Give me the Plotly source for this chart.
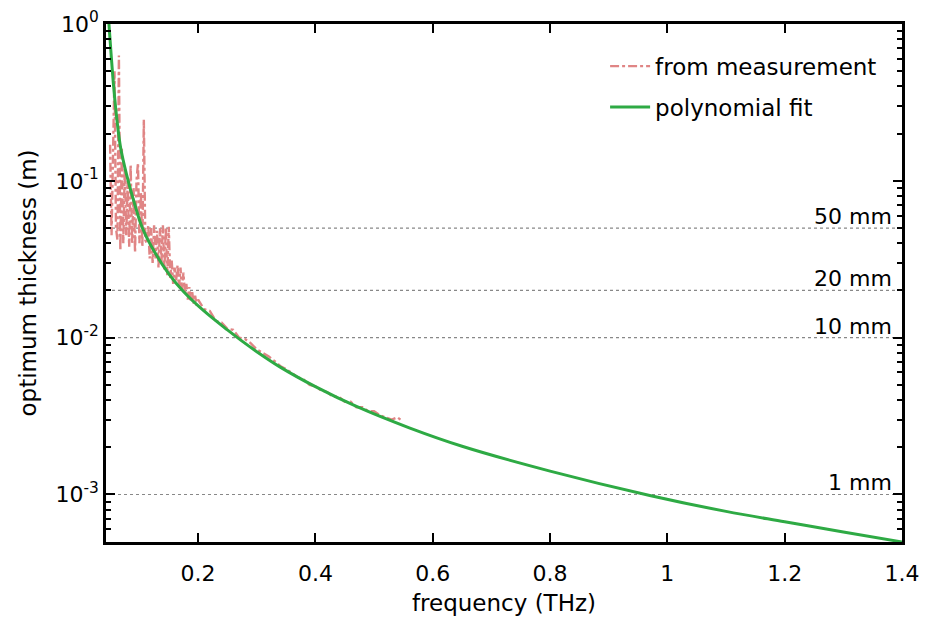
import plotly.graph_objects as go
import numpy as np

# polynomial fit
fit_f = [0.048, 0.052, 0.056, 0.062, 0.068, 0.078, 0.09, 0.105, 0.12, 0.15, 0.175,
         0.21, 0.25, 0.275, 0.30, 0.34, 0.40, 0.47, 0.56, 0.65, 0.80, 0.97, 1.10,
         1.20, 1.30, 1.40]
fit_t = [1.0, 0.62, 0.40, 0.238, 0.162, 0.11, 0.075, 0.050, 0.0384, 0.0255, 0.0197,
         0.0148, 0.0112, 0.0095, 0.00814, 0.00649, 0.00487, 0.00364, 0.00266, 0.00203,
         0.00141, 0.000986, 0.00078, 0.00067, 0.000577, 0.000498]

meas_f = [0.0500, 0.0525, 0.0550, 0.0575, 0.0600, 0.0625, 0.0650, 0.0675, 0.0700, 0.0725,
          0.0750, 0.0775, 0.0800, 0.0825, 0.0850, 0.0875, 0.0900, 0.0925, 0.0950, 0.0975,
          0.1000, 0.1025, 0.1050, 0.1075, 0.1100, 0.1125, 0.1150, 0.1175, 0.1200, 0.1225,
          0.1250, 0.1275, 0.1300, 0.1325, 0.1350, 0.1375, 0.1400, 0.1425, 0.1450, 0.1475,
          0.1500, 0.1525, 0.1550, 0.1575, 0.1600, 0.1625, 0.1650, 0.1675, 0.1700, 0.1725,
          0.1750, 0.1775, 0.1800, 0.1825, 0.1850, 0.1875, 0.1900, 0.1925, 0.1950, 0.1975,
          0.20, 0.21, 0.22, 0.23, 0.24, 0.25, 0.26, 0.27, 0.28, 0.29,
          0.30, 0.31, 0.32, 0.33, 0.34, 0.35, 0.36, 0.37, 0.38, 0.39,
          0.40, 0.41, 0.42, 0.43, 0.44, 0.45, 0.46, 0.47, 0.48, 0.49,
          0.50, 0.51, 0.52, 0.53, 0.54, 0.545]
meas_t = [0.17, 0.045, 0.15, 0.50, 0.05, 0.042, 0.63, 0.036, 0.16, 0.04,
          0.12, 0.045, 0.10, 0.038, 0.127, 0.04, 0.09, 0.035, 0.10, 0.13,
          0.04, 0.085, 0.038, 0.245, 0.042, 0.04, 0.052, 0.032, 0.05, 0.030,
          0.052, 0.032, 0.048, 0.028, 0.05, 0.03, 0.052, 0.027, 0.05, 0.025,
          0.051, 0.024, 0.031, 0.022, 0.028, 0.023, 0.029, 0.021, 0.028, 0.020,
          0.026, 0.019, 0.022, 0.0175, 0.021, 0.017, 0.0195, 0.0165, 0.0185, 0.016,
          0.0175, 0.0152, 0.0148, 0.0128, 0.0125, 0.0114, 0.0112, 0.0100, 0.0098, 0.0092,
          0.0084, 0.0080, 0.0076, 0.0071, 0.0066, 0.0063, 0.0059, 0.0056, 0.0054, 0.0050,
          0.0049, 0.0046, 0.0045, 0.0042, 0.0042, 0.0039, 0.0039, 0.0036, 0.0036, 0.0034,
          0.0034, 0.0032, 0.0031, 0.0030, 0.0031, 0.0030]

# reference thickness lines
ref_t = [0.05, 0.02, 0.01, 0.001]
ref_labels = ["50 mm", "20 mm", "10 mm", "1 mm"]

x_ticks = [0.2, 0.4, 0.6, 0.8, 1.0, 1.2, 1.4]
x_ticktext = ["0.2", "0.4", "0.6", "0.8", "1", "1.2", "1.4"]
y_ticks = [1, 0.1, 0.01, 0.001]
y_ticktext = ["10<sup>0</sup>", "10<sup>-1</sup>", "10<sup>-2</sup>", "10<sup>-3</sup>"]
y_minor = [k * 10.0 ** e for e in (-4, -3, -2, -1) for k in range(2, 10)]

FONT = "DejaVu Sans"

fig = go.Figure()
fig.add_trace(go.Scatter(x=meas_f, y=meas_t, mode="lines", name="from measurement",
                         legendgroup="a",
                         line=dict(color="#e08585", width=2.4, dash="dashdot")))
fig.add_trace(go.Scatter(x=fit_f, y=fit_t, mode="lines", name="polynomial fit",
                         legendgroup="b",
                         line=dict(color="#2eaa44", width=3, shape="spline", smoothing=1)))

for t, lab in zip(ref_t, ref_labels):
    fig.add_shape(type="line", xref="paper", x0=0, x1=1, yref="y", y0=t, y1=t,
                  line=dict(color="#888888", width=1.2, dash="dot"), layer="below")
    fig.add_annotation(xref="paper", x=0.99, yref="y", y=np.log10(t), text=lab,
                       showarrow=False, xanchor="right", yanchor="bottom",
                       font=dict(family=FONT, size=22, color="black"), yshift=-3)

fig.update_layout(
    width=925, height=624,
    margin=dict(l=106, r=23, t=24, b=82, autoexpand=False),
    paper_bgcolor="white", plot_bgcolor="white",
    font=dict(family=FONT, size=22, color="black"),
    showlegend=True,
    legend=dict(x=0.627, y=0.960, xanchor="left", yanchor="top",
                bgcolor="rgba(0,0,0,0)", font=dict(family=FONT, size=23),
                itemwidth=40, tracegroupgap=8),
    xaxis=dict(range=[0.043, 1.4], tickvals=x_ticks, ticktext=x_ticktext,
               automargin=False,
               ticks="inside", ticklen=9, tickwidth=2, tickcolor="black",
               ticklabelstandoff=10,
               showline=True, linewidth=2.5, linecolor="black", mirror="allticks",
               showgrid=False, zeroline=False,
               title=dict(text="frequency (THz)", font=dict(size=23), standoff=10)),
    yaxis=dict(type="log", range=[-3.303, 0], tickvals=y_ticks, ticktext=y_ticktext,
               automargin=False,
               ticks="inside", ticklen=9, tickwidth=2, tickcolor="black",
               minor=dict(tickvals=y_minor, ticks="inside", ticklen=5, tickwidth=1.5,
                          tickcolor="black", showgrid=False),
               showline=True, linewidth=2.5, linecolor="black", mirror="allticks",
               showgrid=False, zeroline=False,
               title=dict(text="optimum thickness (m)", font=dict(size=23), standoff=13)),
)

fig.write_html("out.html")
